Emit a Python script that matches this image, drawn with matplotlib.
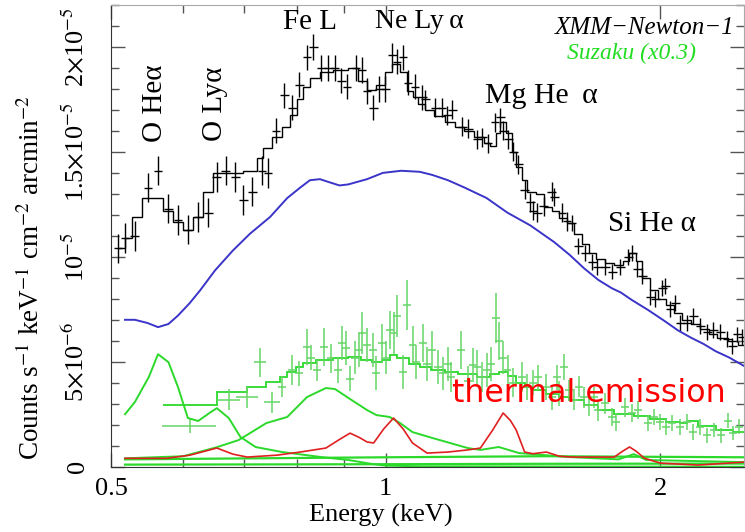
import numpy as np
import matplotlib
matplotlib.use("Agg")
import matplotlib.pyplot as plt
from matplotlib.ticker import FixedLocator, NullFormatter

plt.rcParams["font.family"] = ["Liberation Serif", "DejaVu Serif"]
plt.rcParams["mathtext.fontset"] = "stix"

# values in units of 1e-6 counts s^-1 keV^-1 cm^-2 arcmin^-2, energy in keV

# XMM-Newton data points
xmm_e = [0.509, 0.518, 0.531, 0.549, 0.563, 0.578, 0.592, 0.607, 0.623, 0.639,
         0.653, 0.668, 0.684, 0.698, 0.714, 0.732, 0.743, 0.758, 0.774, 0.790,
         0.804, 0.820, 0.833, 0.850, 0.865, 0.880, 0.894, 0.907, 0.928, 0.942,
         0.954, 0.969, 0.984, 0.999, 1.017, 1.029, 1.045, 1.058, 1.077, 1.097,
         1.105, 1.133, 1.153, 1.168, 1.183, 1.213, 1.232, 1.260, 1.276, 1.295,
         1.318, 1.335, 1.346, 1.363, 1.380, 1.397, 1.42, 1.44, 1.45, 1.466,
         1.49, 1.52, 1.53, 1.56, 1.58, 1.60, 1.626, 1.655, 1.684, 1.706,
         1.741, 1.772, 1.808, 1.845, 1.864, 1.887, 1.911, 1.950, 1.975, 2.010,
         2.025, 2.051, 2.077, 2.104, 2.141, 2.174, 2.212, 2.252, 2.286, 2.327,
         2.369, 2.399, 2.429, 2.460]
xmm_v = [10.4, 10.9, 11.0, 13.3, 14.1, 12.3, 11.75, 11.3, 11.9, 12.1,
         13.8, 14.1, 13.8, 12.7, 13.1, 14.1, 14.0, 16.0, 17.7, 17.1,
         18.2, 19.5, 20.0, 19.0, 19.0, 19.0, 18.4, 18.1, 19.0, 18.9,
         17.9, 17.1, 18.0, 18.0, 19.6, 19.3, 19.5, 18.3, 18.1, 17.6,
         17.5, 17.1, 17.1, 16.75, 17.0, 16.2, 16.1, 15.6, 15.7, 15.4,
         16.4, 16.65, 16.0, 15.6, 15.0, 14.4, 13.2, 12.6, 12.2, 12.1,
         12.4, 13.1, 12.85, 12.1, 11.7, 11.6, 10.5, 10.2, 9.75, 9.5,
         9.5, 9.3, 9.5, 10.0, 10.2, 9.4, 9.1, 8.1, 8.0, 8.5,
         8.6, 7.5, 7.8, 6.85, 6.85, 7.2, 6.7, 6.4, 6.5, 6.4,
         6.1, 5.75, 6.3, 6.2]
# error size per energy band (upper band edge, 1-sigma)
xmm_err_bands = [(0.75, 0.7), (1.1, 0.6), (1.6, 0.45), (3.0, 0.38)]

# XMM-Newton model (step)
xmm_edges = [0.509, 0.518, 0.527, 0.541, 0.556, 0.570, 0.585, 0.600, 0.615, 0.631,
             0.647, 0.663, 0.680, 0.698, 0.723, 0.734, 0.750, 0.770, 0.785, 0.800,
             0.812, 0.826, 0.847, 0.876, 0.910, 0.933, 0.954, 0.977, 0.999, 1.017,
             1.037, 1.055, 1.070, 1.085, 1.105, 1.13, 1.16, 1.19, 1.22, 1.25,
             1.28, 1.30, 1.32, 1.335, 1.355, 1.375, 1.39, 1.41, 1.43, 1.46,
             1.49, 1.52, 1.55, 1.58, 1.61, 1.64, 1.67, 1.70, 1.74, 1.78,
             1.82, 1.85, 1.88, 1.91, 1.95, 1.99, 2.03, 2.07, 2.11, 2.16,
             2.21, 2.26, 2.31, 2.37, 2.43, 2.50]
xmm_model = [10.4, 10.9, 11.9, 12.8, 12.8, 12.2, 11.65, 11.3, 11.9, 13.1,
             14.0, 14.0, 14.0, 14.1, 14.7, 15.2, 15.7, 16.2, 16.75, 17.5,
             18.1, 18.5, 18.8, 18.9, 19.0, 18.4, 17.97, 18.2, 18.8, 19.2,
             18.8, 17.9, 17.6, 17.3, 17.0, 16.7, 16.4, 16.2, 16.0, 15.7,
             15.4, 15.3, 15.9, 16.4, 15.9, 15.0, 14.3, 13.65, 13.1, 13.0,
             12.35, 12.2, 11.85, 11.6, 11.1, 10.6, 10.2, 9.9, 9.7, 9.6,
             9.8, 10.2, 9.8, 9.0, 8.4, 8.0, 7.7, 7.3, 7.0, 6.8,
             6.55, 6.3, 6.15, 6.0, 5.8]

# background-like component (blue)
blue_e = [0.518, 0.531, 0.548, 0.563, 0.578, 0.592, 0.61, 0.626, 0.65, 0.68,
          0.71, 0.747, 0.78, 0.806, 0.826, 0.847, 0.868, 0.89, 0.91, 0.954,
          0.993, 1.04, 1.09, 1.125, 1.17, 1.22, 1.29, 1.36, 1.44, 1.53,
          1.59, 1.65, 1.71, 1.77, 1.81, 1.86, 1.94, 2.02, 2.09, 2.16,
          2.23, 2.30, 2.38, 2.47]
blue_v = [7.0, 7.0, 6.85, 6.65, 6.8, 7.2, 7.8, 8.4, 9.35, 10.3,
          11.1, 11.9, 12.8, 13.3, 13.65, 13.7, 13.55, 13.4, 13.45, 13.7,
          14.0, 14.1, 14.05, 13.9, 13.65, 13.3, 12.8, 12.1, 11.5, 10.7,
          10.1, 9.45, 8.9, 8.5, 8.3, 7.95, 7.46, 6.95, 6.5, 6.15,
          5.85, 5.5, 5.2, 4.8]

# Suzaku data points (scaled x0.3)
suz_e = [0.61, 0.673, 0.705, 0.728, 0.75, 0.77, 0.79, 0.804, 0.82, 0.828,
         0.84, 0.855, 0.87, 0.886, 0.896, 0.905, 0.914, 0.925, 0.934, 0.943,
         0.955, 0.968, 0.977, 0.99, 1.0, 1.012, 1.02, 1.03, 1.045, 1.056,
         1.07, 1.08, 1.10, 1.11, 1.125, 1.14, 1.155, 1.17, 1.18, 1.21,
         1.23, 1.245, 1.26, 1.275, 1.29, 1.305, 1.32, 1.33, 1.345, 1.36,
         1.38, 1.41, 1.43, 1.45, 1.47, 1.50, 1.52, 1.54, 1.55, 1.57,
         1.59, 1.61, 1.63, 1.65, 1.67, 1.69, 1.71, 1.74, 1.77, 1.79,
         1.83, 1.86, 1.89, 1.94, 1.97, 2.0, 2.03, 2.06, 2.1, 2.14,
         2.17, 2.21, 2.25, 2.29, 2.33, 2.37, 2.4, 2.44]
suz_v = [1.94, 3.18, 3.32, 4.98, 3.08, 3.8, 4.6, 4.45, 5.7, 5.2,
         4.6, 5.7, 5.17, 4.6, 5.9, 5.65, 4.2, 5.2, 5.55, 6.36,
         5.8, 5.55, 4.46, 5.9, 5.2, 6.5, 6.36, 7.2, 4.5, 7.7,
         5.8, 5.0, 5.9, 4.9, 5.55, 4.75, 4.45, 4.9, 4.27, 5.55,
         4.1, 4.84, 4.75, 4.27, 4.6, 4.9, 7.1, 6.0, 5.2, 4.6,
         4.0, 4.27, 3.8, 4.0, 4.27, 3.8, 3.3, 4.27, 3.5, 4.75,
         3.65, 3.18, 3.8, 3.3, 2.94, 3.3, 2.7, 3.03, 2.37, 2.13,
         2.84, 2.56, 2.7, 2.08, 2.37, 2.13, 1.89, 2.08, 1.89, 2.13,
         1.65, 1.89, 1.5, 1.75, 1.5, 2.2, 1.6, 1.9]
suz_ey = [0.35, 0.5, 0.5, 0.7, 0.5, 0.5, 0.7, 0.6, 0.85, 0.6,
          0.5, 0.9, 0.7, 0.6, 0.8, 0.8, 0.6, 0.8, 0.8, 1.0,
          0.8, 0.8, 0.8, 0.9, 0.8, 0.9, 1.0, 1.0, 0.8, 1.2,
          0.9, 0.8, 0.9, 0.8, 0.9, 0.8, 0.8, 0.8, 0.7, 0.9,
          0.7, 0.8, 0.8, 0.7, 0.8, 0.8, 1.2, 0.9, 0.8, 0.7,
          0.7, 0.7, 0.6, 0.6, 0.6, 0.6, 0.6, 0.6, 0.6, 0.6,
          0.5, 0.5, 0.5, 0.5, 0.5, 0.5, 0.5, 0.5, 0.45, 0.45,
          0.45, 0.45, 0.45, 0.4, 0.4, 0.4, 0.4, 0.4, 0.4, 0.4,
          0.4, 0.4, 0.35, 0.35, 0.35, 0.35, 0.35, 0.35]
# half bin widths (keV) of the wide low-energy bins, rest are narrow
suz_wide_dx = [0.042, 0.019, 0.02, 0.011, 0.015]
suz_dx_frac = 0.01

# Suzaku model (step)
suz_edges = [0.570, 0.653, 0.675, 0.705, 0.74, 0.765, 0.78, 0.797, 0.812, 0.838,
             0.876, 0.91, 0.94, 0.965, 0.99, 1.01, 1.03, 1.06, 1.09, 1.12,
             1.16, 1.2, 1.26, 1.3, 1.33, 1.36, 1.39, 1.42, 1.45, 1.5,
             1.55, 1.59, 1.65, 1.71, 1.78, 1.87, 1.95, 2.03, 2.1, 2.14,
             2.2, 2.3, 2.4, 2.5]
suz_model = [2.94, 3.55, 3.57, 3.8, 4.04, 4.27, 4.5, 4.75, 4.94, 5.08,
             5.17, 5.24, 5.1, 4.98, 5.1, 5.32, 5.2, 4.9, 4.75, 4.6,
             4.5, 4.4, 4.27, 4.4, 4.5, 4.3, 4.0, 3.8, 3.65, 3.45,
             3.3, 3.18, 2.95, 2.7, 2.5, 2.4, 2.25, 2.13, 2.1, 2.2,
             1.95, 1.75, 1.65]

# Suzaku model components (green)
oline_e = [0.518, 0.531, 0.55, 0.563, 0.578, 0.592, 0.607, 0.623, 0.643, 0.653,
           0.673, 0.693, 0.72, 0.77, 0.85, 0.91, 0.96, 1.0, 1.1, 2.47]
oline_v = [2.5, 3.08, 4.27, 5.36, 4.98, 3.8, 2.32, 2.18, 2.6, 2.79,
           2.32, 1.42, 0.94, 0.70, 0.46, 0.32, 0.15, 0.05, 0.02, 0.0]
fel_e = [0.518, 0.6, 0.653, 0.69, 0.74, 0.78, 0.82, 0.86, 0.88, 0.907,
         0.954, 0.977, 1.01, 1.037, 1.07, 1.125, 1.23, 1.27, 1.33, 1.40,
         1.59, 1.80, 1.87, 1.93, 2.47]
fel_v = [0.4, 0.5, 0.93, 1.27, 2.08, 2.37, 3.32, 3.75, 3.7, 3.32,
         2.7, 2.46, 2.37, 2.08, 1.65, 1.37, 0.89, 0.8, 0.94, 0.65,
         0.46, 0.35, 0.6, 0.32, 0.22]
flat_e = [0.518, 1.0, 1.5, 2.47]
flat1_v = [0.35, 0.45, 0.5, 0.45]
flat2_v = [0.1, 0.12, 0.14, 0.15]

# thermal emission component (red)
red_e = [0.518, 0.575, 0.61, 0.653, 0.68, 0.705, 0.76, 0.806, 0.86, 0.89,
         0.914, 0.935, 0.954, 0.97, 0.995, 1.02, 1.045, 1.07, 1.11, 1.17,
         1.23, 1.27, 1.31, 1.345, 1.37, 1.39, 1.42, 1.45, 1.5, 1.55,
         1.6, 1.78, 1.82, 1.85, 1.88, 1.92, 2.0, 2.2, 2.47]
red_v = [0.4, 0.4, 0.55, 0.89, 0.6, 0.46, 0.55, 0.70, 0.89, 1.3,
         1.6, 1.4, 1.18, 1.13, 1.8, 2.32, 1.8, 1.13, 0.65, 0.7,
         0.8, 0.89, 1.75, 2.56, 2.2, 1.75, 0.7, 0.62, 0.7, 0.5,
         0.46, 0.46, 0.75, 0.94, 0.75, 0.41, 0.17, 0.08, 0.22]

# line identifications: text, energy, value, rotation, size
line_ids = [("O He\u03b1", 0.559, 17.3, 90, 21),
            ("O Ly\u03b1", 0.650, 17.3, 90, 21),
            ("Fe L", 0.826, 21.2, 0, 21),
            ("Ne Ly\u2009\u03b1", 1.09, 21.2, 0, 20),
            ("Mg He \u2009\u03b1", 1.48, 17.65, 0, 21.5),
            ("Si He \u03b1", 1.96, 11.56, 0, 21)]

GREEN = "#2bd92b"
GREEN_DATA = "#66d666"
BLUE = "#3a34c8"
RED = "#e02020"

fig = plt.figure(figsize=(7.45, 5.32), dpi=100)
ax = fig.add_axes([0.149, 0.1227, 0.8497, 0.868])
ax.set_xscale("log")

# XMM
xmm_e_arr = np.array(xmm_e)
xmm_ey = np.zeros_like(xmm_e_arr)
lo = 0.0
for hi, err in xmm_err_bands:
    xmm_ey[(xmm_e_arr >= lo) & (xmm_e_arr < hi)] = err
    lo = hi
ax.stairs(xmm_model, xmm_edges, baseline=None, color="black", lw=1.0)
ax.errorbar(xmm_e, xmm_v, xerr=xmm_e_arr * 0.011, yerr=xmm_ey, fmt="none",
            ecolor="black", elinewidth=1.0, capsize=0)
ax.plot(blue_e, blue_v, color=BLUE, lw=1.4)

# Suzaku
suz_e_arr = np.array(suz_e)
suz_dx = suz_e_arr * suz_dx_frac
suz_dx[:len(suz_wide_dx)] = suz_wide_dx
ax.stairs(suz_model, suz_edges, baseline=None, color=GREEN, lw=1.3)
ax.errorbar(suz_e, suz_v, xerr=suz_dx, yerr=suz_ey, fmt="none",
            ecolor=GREEN_DATA, elinewidth=1.1, capsize=0)
ax.plot(oline_e, oline_v, color=GREEN, lw=1.4)
ax.plot(fel_e, fel_v, color=GREEN, lw=1.4)
ax.plot(flat_e, flat1_v, color=GREEN, lw=1.6)
ax.plot(flat_e, flat2_v, color=GREEN, lw=1.6)
ax.plot(red_e, red_v, color=RED, lw=1.2)

ax.set_xlim(0.5, 2.47)
ax.set_ylim(0, 22)

ax.xaxis.set_major_locator(FixedLocator([0.5, 1, 2]))
ax.set_xticklabels(["0.5", "1", "2"])
ax.xaxis.set_minor_locator(FixedLocator([0.6, 0.7, 0.8, 0.9]))
ax.xaxis.set_minor_formatter(NullFormatter())
ax.yaxis.set_major_locator(FixedLocator([0, 5, 10, 15, 20]))
ax.set_yticklabels(["0", "5$\\times$10$^{-6}$", "10$^{-5}$",
                    "1.5$\\times$10$^{-5}$", "2$\\times$10$^{-5}$"],
                   rotation=90, va="center")
ax.yaxis.set_minor_locator(FixedLocator(np.arange(0, 22.1, 1)))
ax.tick_params(which="both", direction="in", top=True, right=True,
               color="#555555", labelsize=19)
ax.tick_params(which="major", length=10, width=1.0)
ax.tick_params(which="minor", length=6, width=1.0)
ax.tick_params(axis="y", pad=16)
ax.tick_params(axis="x", pad=8)
for side in ["left", "bottom"]:
    ax.spines[side].set_color("#333333")
for side in ["top", "right"]:
    ax.spines[side].set_color("#aaaaaa")

ax.set_xlabel("Energy (keV)", fontsize=19)
ax.xaxis.set_label_coords(0.427, -0.08)
ax.set_ylabel("Counts s$^{-1}$ keV$^{-1}$ cm$^{-2}$ arcmin$^{-2}$", fontsize=19.5)
ax.yaxis.set_label_coords(-0.105, 0.41)

for txt, x, y, rot, size in line_ids:
    ax.text(x, y, txt, rotation=rot, fontsize=size, ha="center", va="center")

ax.text(0.985, 0.95, "XMM\u2212Newton\u22121", transform=ax.transAxes,
        fontsize=18, style="italic", ha="right", va="center")
ax.text(0.72, 0.895, "Suzaku (x0.3)", transform=ax.transAxes,
        fontsize=17, style="italic", color="#22dd22", ha="left", va="center")
ax.text(1.183, 3.5, "thermal emission", fontsize=22.8, color="#ff0000",
        family="DejaVu Sans", ha="left", va="center")

fig.savefig("out.png", dpi=100)
